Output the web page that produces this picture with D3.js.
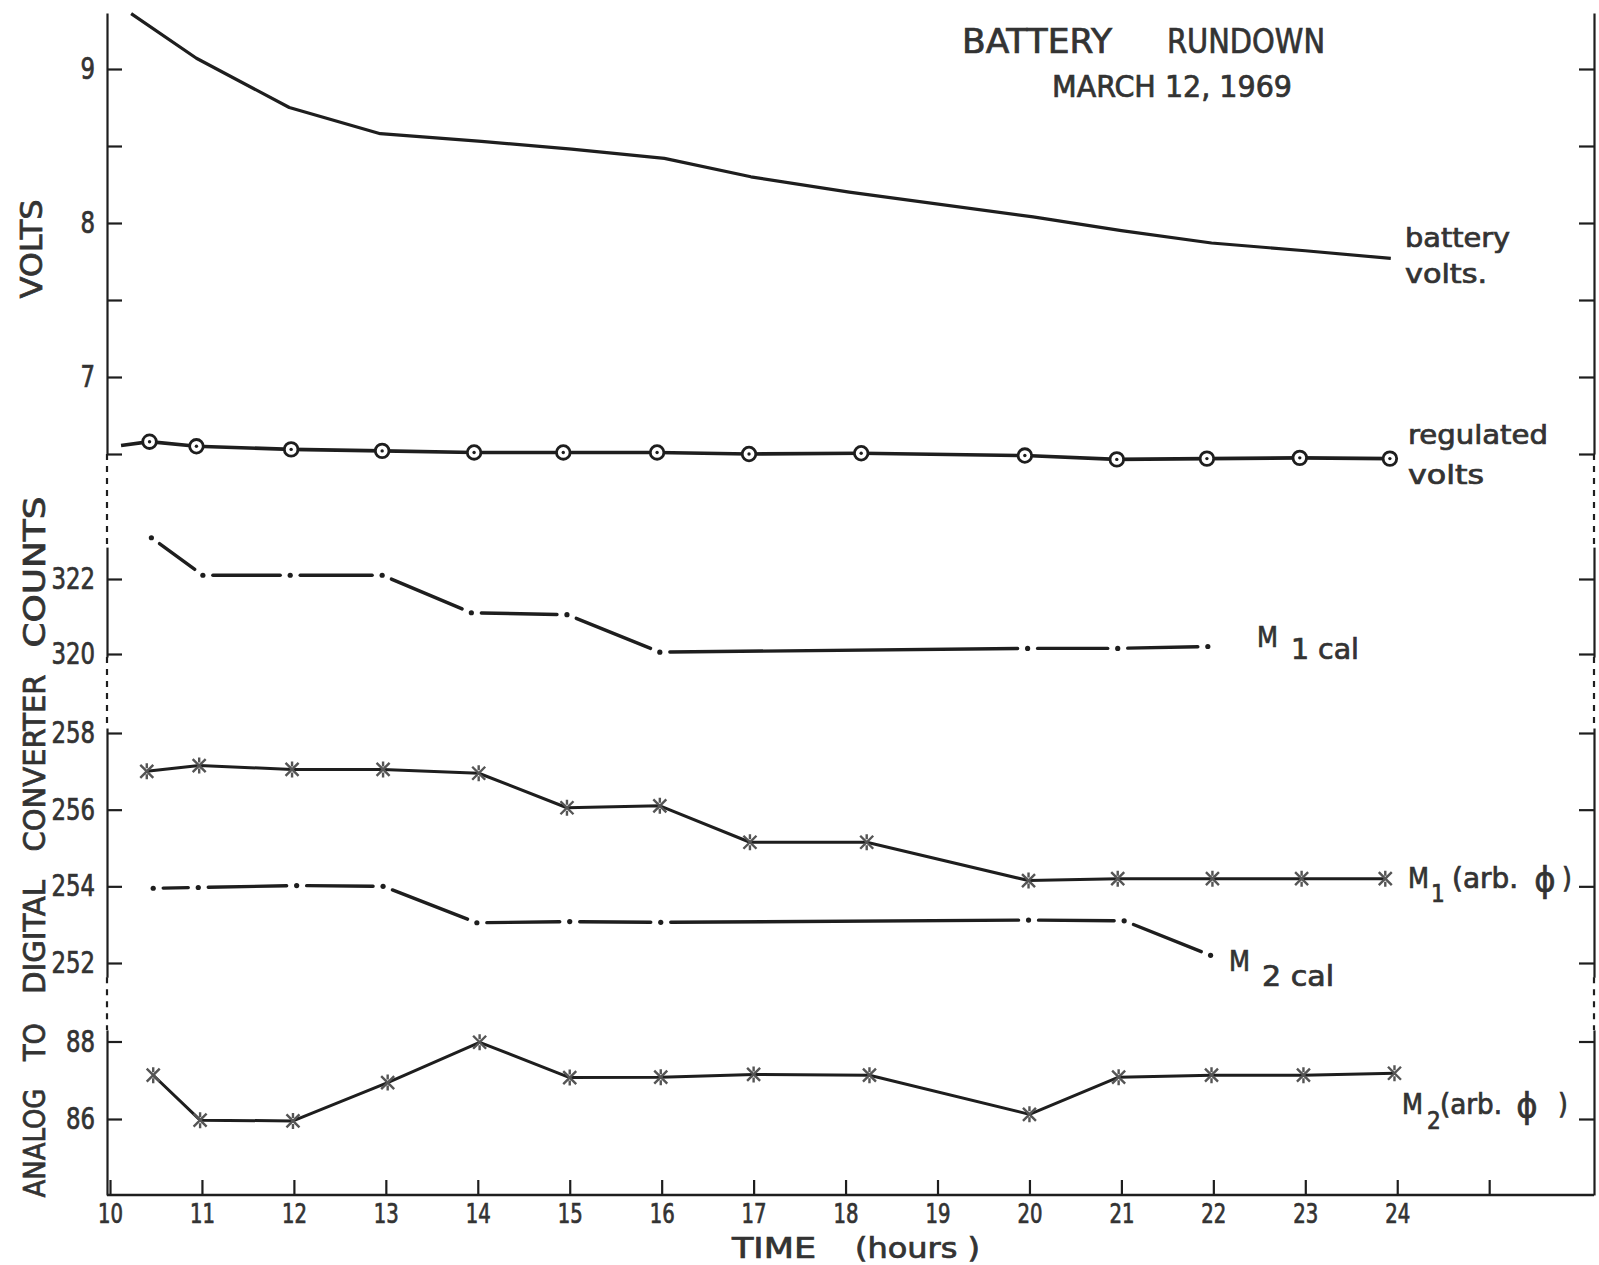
<!DOCTYPE html>
<html><head><meta charset="utf-8">
<script src="https://cdn.jsdelivr.net/npm/d3@7"></script>
<style>
html,body{margin:0;padding:0;background:#fff;}
svg{display:block;background:#fff;}
text{font-family:"DejaVu Sans Condensed","DejaVu Sans",sans-serif;fill:#333;stroke:#333;stroke-width:0.7px;}
</style></head><body>
<svg id="chart" width="1599" height="1265"></svg>
<script>
// ---------- data ----------
const batteryHours = [10.23,10.94,11.95,12.94,14.04,15.02,16.03,16.97,18.04,20.04,21.0,21.98,23.0,23.93];
const batteryVolts = [9.36,9.07,8.75,8.58,8.53,8.48,8.42,8.30,8.20,8.04,7.95,7.87,7.82,7.77];

const regulatedStart = [10.12, 6.555];
const regulatedHours = [10.43,10.94,11.97,12.96,13.96,14.93,15.95,16.95,18.17,19.95,20.95,21.93,22.94,23.92];
const regulatedVolts = [6.58,6.55,6.53,6.52,6.51,6.51,6.51,6.50,6.505,6.49,6.465,6.47,6.475,6.47];

const m1CalHours  = [10.45,11.01,11.96,12.96,13.93,14.97,15.98,19.98,20.96,21.94];
const m1CalCounts = [323.1,322.1,322.1,322.1,321.1,321.05,320.05,320.15,320.15,320.2];

const m1Hours  = [10.40,10.97,11.98,12.97,14.01,14.97,15.98,16.96,18.23,19.99,20.96,21.99,22.96,23.87];
const m1Counts = [257.0,257.15,257.05,257.05,256.95,256.05,256.1,255.15,255.15,254.15,254.2,254.2,254.2,254.2];

const m2CalHours  = [10.47,10.96,12.03,12.97,13.99,15.0,15.99,19.99,21.03,21.97];
const m2CalCounts = [253.95,253.97,254.02,254.0,253.05,253.08,253.06,253.12,253.1,252.2];

const m2Hours  = [10.47,10.98,11.99,13.02,14.02,15.0,15.99,17.0,18.26,20.0,20.97,21.98,22.98,23.97];
const m2Counts = [87.13,85.97,85.95,86.94,87.98,87.07,87.08,87.15,87.13,86.12,87.08,87.13,87.13,87.18];

const xTicks = [10,11,12,13,14,15,16,17,18,19,20,21,22,23,24,25];
const xTickLabels = ["10","11","12","13","14","15","16","17","18","19","20","21","22","23","24",""];
const voltTicks = [6.5,7,7.5,8,8.5,9];
const voltTickLabels = ["","7","","8","","9"];
const calTicks = [320,322];
const calTickLabels = ["320","322"];
const midTicks = [252,254,256,258];
const midTickLabels = ["252","254","256","258"];
const lowTicks = [86,88];
const lowTickLabels = ["86","88"];

// ---------- scales ----------
const svg = d3.select("#chart");
const INK = "#1e1e1e";
const LEFT = 107, RIGHT = 1594, BASE = 1195;
const x = d3.scaleLinear().domain([10, 26.14]).range([110, RIGHT]);
const yVolt = d3.scaleLinear().domain([6.5, 9]).range([454, 69]);
const yCal  = d3.scaleLinear().domain([320, 322]).range([654, 579]);
const yMid  = d3.scaleLinear().domain([252, 258]).range([963, 733]);
const yLow  = d3.scaleLinear().domain([86, 88]).range([1119, 1041.5]);

const segments = [
  {scale:yVolt, dom:[6.5, 9.364], ticks:voltTicks, labels:voltTickLabels},
  {scale:yCal,  dom:[319.92, 322.85], ticks:calTicks, labels:calTickLabels},
  {scale:yMid,  dom:[251.63, 258.13], ticks:midTicks, labels:midTickLabels},
  {scale:yLow,  dom:[84.04, 88.3], ticks:lowTicks, labels:lowTickLabels}
];

// ---------- axes ----------
function styleAxis(g){
  g.select(".domain").attr("stroke", INK).attr("stroke-width", 2.2);
  g.selectAll(".tick line").attr("stroke", INK).attr("stroke-width", 2.2);
}
const FONT = '"DejaVu Sans Condensed","DejaVu Sans",sans-serif';
segments.forEach(seg => {
  const s = seg.scale.copy().domain(seg.dom).range(seg.dom.map(seg.scale));
  ["left","right"].forEach(side => {
    const ax = (side === "left" ? d3.axisLeft(s) : d3.axisRight(s))
      .tickValues(seg.ticks).tickSizeInner(-15).tickSizeOuter(0).tickPadding(12)
      .tickFormat((d,i) => side === "left" ? seg.labels[i] : "");
    const g = svg.append("g")
      .attr("transform", `translate(${side === "left" ? LEFT : RIGHT},0)`)
      .call(ax);
    styleAxis(g);
    g.selectAll(".tick text")
      .attr("font-family", FONT)
      .attr("font-size", 30).attr("fill", "#333")
      .each(function(){
        const t = d3.select(this).text();
        if (t.length) d3.select(this).attr("textLength", t.length * 14.5).attr("lengthAdjust", "spacingAndGlyphs");
      });
  });
});
// dashed connectors between broken axis segments
for (let i = 0; i < segments.length - 1; i++) {
  const a = segments[i], b = segments[i+1];
  const y1 = a.scale(a.dom[0]), y2 = b.scale(b.dom[1]);
  [LEFT, RIGHT].forEach(xx => {
    svg.append("line").attr("x1", xx).attr("x2", xx).attr("y1", y1).attr("y2", y2)
      .attr("stroke", INK).attr("stroke-width", 2.2).attr("stroke-dasharray", "6,6");
  });
}
// x axis
const xAx = d3.axisBottom(x).tickValues(xTicks).tickSizeInner(-15).tickSizeOuter(0).tickPadding(10)
  .tickFormat((d,i) => xTickLabels[i]);
const gx = svg.append("g").attr("transform", `translate(0,${BASE})`).call(xAx);
styleAxis(gx);
gx.select(".domain").remove();
gx.selectAll(".tick text")
  .attr("font-family", FONT)
  .attr("font-size", 26).attr("fill", "#333")
  .each(function(){
    const t = d3.select(this).text();
    if (t.length) d3.select(this).attr("textLength", t.length * 12.5).attr("lengthAdjust", "spacingAndGlyphs");
  });
svg.append("line").attr("x1", LEFT).attr("x2", RIGHT).attr("y1", BASE).attr("y2", BASE)
  .attr("stroke", INK).attr("stroke-width", 2.4);

// ---------- series ----------
const line = (ys) => d3.line().x(d => x(d[0])).y(d => ys(d[1]));

// battery volts
svg.append("path").datum(d3.zip(batteryHours, batteryVolts))
  .attr("d", line(yVolt)).attr("fill", "none").attr("stroke", INK).attr("stroke-width", 3.2)
  .attr("stroke-linejoin", "round");

// regulated volts
const regData = d3.zip(regulatedHours, regulatedVolts);
svg.append("path").datum([regulatedStart].concat(regData))
  .attr("d", line(yVolt)).attr("fill", "none").attr("stroke", INK).attr("stroke-width", 3.6);
const regM = svg.append("g").selectAll("g").data(regData).join("g")
  .attr("transform", d => `translate(${x(d[0])},${yVolt(d[1])})`);
regM.append("circle").attr("r", 6.8).attr("fill", "#fff").attr("stroke", INK).attr("stroke-width", 2.8);
regM.append("circle").attr("r", 1.7).attr("fill", INK);

// dash-dot calibration lines: dot at each reading, segments with gaps
function calLine(hours, counts, ys){
  const pts = d3.zip(hours, counts).map(d => [x(d[0]), ys(d[1])]);
  const gap = 10;
  const segs = d3.pairs(pts).map(([p,q]) => {
    const dx = q[0]-p[0], dy = q[1]-p[1], L = Math.hypot(dx,dy);
    const ux = dx/L, uy = dy/L;
    return [p[0]+ux*gap, p[1]+uy*gap, q[0]-ux*gap, q[1]-uy*gap];
  });
  const g = svg.append("g");
  g.selectAll("line").data(segs).join("line")
    .attr("x1", d=>d[0]).attr("y1", d=>d[1]).attr("x2", d=>d[2]).attr("y2", d=>d[3])
    .attr("stroke", INK).attr("stroke-width", 3.4).attr("stroke-linecap", "round");
  g.selectAll("circle").data(pts).join("circle")
    .attr("cx", d=>d[0]).attr("cy", d=>d[1]).attr("r", 2.6).attr("fill", INK);
}
calLine(m1CalHours, m1CalCounts, yCal);
calLine(m2CalHours, m2CalCounts, yMid);

// asterisk-marked lines
function starLine(hours, counts, ys){
  const data = d3.zip(hours, counts);
  svg.append("path").datum(data).attr("d", line(ys)).attr("fill", "none")
    .attr("stroke", INK).attr("stroke-width", 3).attr("stroke-linejoin", "round");
  svg.append("g").selectAll("path").data(data).join("path")
    .attr("transform", d => `translate(${x(d[0])},${ys(d[1])})`)
    .attr("d", "M-6.5,-6.5L6.5,6.5M-6.5,6.5L6.5,-6.5M0,-8V-3M0,3V8")
    .attr("stroke", "#555").attr("stroke-width", 2.4).attr("fill", "none");
}
starLine(m1Hours, m1Counts, yMid);
starLine(m2Hours, m2Counts, yLow);

// ---------- texts ----------
function txt(s, xx, yy, size, opts){
  opts = opts || {};
  const t = svg.append("text").attr("x", xx).attr("y", yy).attr("font-size", size).text(s);
  if (opts.len) t.attr("textLength", opts.len).attr("lengthAdjust", "spacingAndGlyphs");
  if (opts.anchor) t.attr("text-anchor", opts.anchor);
  if (opts.family) t.attr("font-family", opts.family);
  return t;
}
// title
txt("BATTERY", 962, 53, 34, {len:150});
txt("RUNDOWN", 1167, 53, 34, {len:158});
txt("MARCH 12, 1969", 1052, 97, 30, {len:240});

// series labels
txt("battery", 1405, 247, 27, {len:105});
txt("volts.", 1405, 283, 27, {len:82});
txt("regulated", 1408, 444, 27, {len:140});
txt("volts", 1408, 484, 27, {len:76});

txt("M", 1257, 647, 28, {len:21});
txt("1 cal", 1291, 659, 28, {len:68});

txt("M", 1408, 888, 28, {len:21});
txt("1", 1431, 902, 24);
txt("(arb.", 1452, 888, 28, {len:66});
txt("\u03D5", 1545, 892, 36, {anchor:"middle", family:"DejaVu Sans"});
txt(")", 1562, 888, 28);

txt("M", 1229, 971, 28, {len:21});
txt("2 cal", 1262, 986, 28, {len:72});

txt("M", 1402, 1114, 28, {len:21});
txt("2", 1427, 1129, 24);
txt("(arb.", 1440, 1114, 28, {len:62});
txt("\u03D5", 1527, 1118, 36, {anchor:"middle", family:"DejaVu Sans"});
txt(")", 1558, 1114, 28);

// axis titles
txt("TIME", 732, 1258, 29, {len:84});
txt("(hours )", 855, 1258, 29, {len:125});

function vtxt(s, cx, cy, size, len){
  svg.append("text").attr("transform", `translate(${cx},${cy}) rotate(-90)`)
    .attr("text-anchor", "middle").attr("font-size", size)
    .attr("textLength", len).attr("lengthAdjust", "spacingAndGlyphs").text(s);
}
vtxt("VOLTS", 42, 249, 30, 99);
vtxt("ANALOG", 45, 1143, 30, 109);
vtxt("TO", 45, 1042, 30, 38);
vtxt("DIGITAL", 45, 937, 30, 114);
vtxt("CONVERTER", 45, 763, 30, 177);
vtxt("COUNTS", 45, 572, 30, 151);
</script>
</body></html>
